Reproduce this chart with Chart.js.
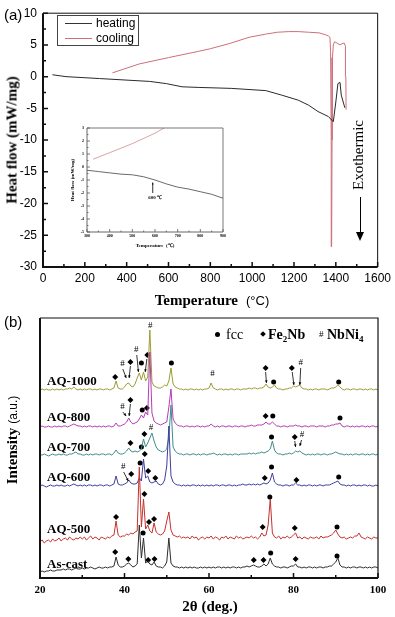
<!DOCTYPE html>
<html lang="en">
<head>
<meta charset="UTF-8">
<title>DSC and XRD</title>
<script src="https://cdn.jsdelivr.net/npm/chart.js"></script>
<style>
  html, body { margin: 0; padding: 0; background: #fff; }
  #fig { position: relative; width: 395px; height: 617px; overflow: hidden; }
  #fig canvas { position: absolute; }
  .txt { position: absolute; white-space: nowrap; line-height: 1; color: #000; }
  .sans { font-family: 'Liberation Sans', Arial, sans-serif; }
  .serif { font-family: 'Liberation Serif', 'Times New Roman', serif; }
  .rot { transform: translate(-50%, -50%) rotate(-90deg); }
  .mid { transform: translate(-50%, -50%); }
  .sample { font: bold 13px 'Liberation Serif', serif; left: 47px; transform: translateY(-50%); }
  sub { font-size: 9px; vertical-align: -3px; line-height: 0; }
</style>
</head>
<body>
<div id="fig">
  <canvas id="dsc" width="395" height="310" style="left:0;top:0"></canvas>
  <canvas id="inset" width="180" height="140" style="left:50px;top:118px"></canvas>
  <canvas id="xrd" width="395" height="307" style="left:0;top:310px"></canvas>

  <!-- panel (a) texts -->
  <div class="txt sans" style="left:4px;top:7px;font-size:15px">(a)</div>
  <div style="position:absolute;left:57px;top:15px;width:80px;height:29px;border:1px solid #444"></div>
  <div style="position:absolute;left:65px;top:23px;width:27px;height:1px;background:#333"></div>
  <div style="position:absolute;left:65px;top:38px;width:27px;height:1px;background:#cc6f78"></div>
  <div class="txt sans" style="left:96px;top:17px;font-size:12px">heating</div>
  <div class="txt sans" style="left:96px;top:32px;font-size:12px">cooling</div>
  <div class="txt serif rot" style="left:12px;top:140px;font-size:15px;font-weight:bold">Heat flow (mW/mg)</div>
  <div class="txt mid" style="left:212px;top:300px"><span class="serif" style="font-weight:bold;font-size:15px">Temperature</span>&nbsp; <span class="sans" style="font-size:13px">(°C)</span></div>
  <div class="txt serif rot" style="left:358px;top:155px;font-size:15px">Exothermic</div>
  <div style="position:absolute;left:359.5px;top:197px;width:1px;height:36px;background:#000"></div>
  <div style="position:absolute;left:356px;top:232px;width:0;height:0;border-left:4px solid transparent;border-right:4px solid transparent;border-top:9px solid #000"></div>

  <!-- panel (b) texts -->
  <div class="txt sans" style="left:4px;top:314px;font-size:15px">(b)</div>
  <div style="position:absolute;left:215px;top:332px;width:5px;height:5px;border-radius:50%;background:#000"></div>
  <div class="txt serif" style="left:226px;top:328px;font-size:14px">fcc</div>
  <div style="position:absolute;left:261px;top:332px;width:4px;height:4px;background:#000;transform:rotate(45deg)"></div>
  <div class="txt serif" style="left:268px;top:328px;font-size:14px;font-weight:bold">Fe<sub>2</sub>Nb</div>
  <div class="txt serif" style="left:319px;top:330px;font-size:9px">#</div>
  <div class="txt serif" style="left:327px;top:328px;font-size:14px;font-weight:bold">NbNi<sub>4</sub></div>

  <div class="txt sample" style="top:381px">AQ-1000</div>
  <div class="txt sample" style="top:417px">AQ-800</div>
  <div class="txt sample" style="top:447px">AQ-700</div>
  <div class="txt sample" style="top:477px">AQ-600</div>
  <div class="txt sample" style="top:529px">AQ-500</div>
  <div class="txt sample" style="top:564px">As-cast</div>

  <div class="txt rot" style="left:12px;top:440px"><span class="serif" style="font-weight:bold;font-size:15px">Intensity</span> <span class="sans" style="font-size:12px">(a.u.)</span></div>
  <div class="txt serif mid" style="left:210px;top:606px;font-size:15px;font-weight:bold">2θ (deg.)</div>
</div>

<script>
  // ---- (a) DSC curves, temperature in °C, heat flow in mW/mg
  const heatT = [45, 110, 270, 430, 510, 590, 665, 745, 900, 1065, 1140, 1220, 1270, 1315, 1365, 1388, 1400, 1410, 1420, 1426, 1443];
  const heatQ = [0.3, 0.0, -0.3, -0.6, -0.75, -1.1, -1.6, -1.7, -1.85, -2.2, -2.9, -3.7, -4.5, -5.5, -6.3, -7.1, -4.0, -1.1, -0.9, -2.9, -4.9];
  const coolT = [1449, 1448, 1446, 1440, 1430, 1420, 1410, 1400, 1394, 1388, 1384, 1382, 1380, 1378, 1375, 1372, 1365, 1350, 1320, 1270, 1220, 1175, 1120, 1065, 985, 890, 800, 745, 600, 460, 332];
  const coolQ = [-5.2, 0.0, 4.8, 5.3, 5.2, 5.0, 5.2, 5.4, 5.5, 5.0, 3.0, -10, -26.8, -10, 4.0, 6.2, 6.4, 6.6, 6.9, 7.0, 7.1, 7.1, 7.0, 6.7, 6.2, 5.2, 4.4, 4.0, 3.0, 2.0, 0.6];

  // inset (300-900 °C)
  const insetHeatT = [300, 350, 400, 450, 500, 550, 600, 650, 700, 750, 800, 850, 900];
  const insetHeatQ = [-0.25, -0.35, -0.45, -0.55, -0.6, -0.75, -1.0, -1.3, -1.55, -1.7, -1.9, -2.1, -2.4];
  const insetCoolT = [327, 400, 500, 600, 640];
  const insetCoolQ = [0.6, 1.1, 1.8, 2.6, 3.0];

  const dscXMajor = [0, 200, 400, 600, 800, 1000, 1200, 1400, 1600];
  const dscXMinor = [100, 300, 500, 700, 900, 1100, 1300, 1500];
  const dscYMajor = [-30, -25, -20, -15, -10, -5, 0, 5, 10];
  const dscYMinor = [-27.5, -22.5, -17.5, -12.5, -7.5, -2.5, 2.5, 7.5];
  const insXMajor = [300, 400, 500, 600, 700, 800, 900];
  const insXMinor = [350, 450, 550, 650, 750, 850];
  const insYMajor = [-5, -4, -3, -2, -1, 0, 1, 2, 3];
  const insYMinor = [-4.5, -3.5, -2.5, -1.5, -0.5, 0.5, 1.5, 2.5];

  // ---- (b) XRD, 2theta grid 20..100 step 0.5, intensities in a.u.
  const twoTheta = Array.from({ length: 161 }, (_, i) => 20 + i * 0.5);

  const asCast = [
    -4,-3,-4,-3,-3,-2,-3,-3,-2,-2,  -2,-1,-2,-1,-1,-2,-1,0,-1,-1,
    0,-1,0,0,1,0,-1,0,1,0,          0,1,0,1,1,2,11,3,1,1,
    2,4,5,3,1,2,4,43,10,30,         5,7,4,3,6,2,1,1,0,2,
    6,30,5,2,1,1,0,1,0,1,           0,1,0,1,0,0,1,0,1,0,
    1,0,1,0,1,1,0,1,0,1,            0,1,1,0,1,0,1,1,2,1,
    2,3,2,1,1,2,4,2,4,10,           4,2,1,1,0,1,1,0,1,2,
    2,4,1,1,0,1,0,1,1,0,            1,0,1,1,0,1,1,2,2,4,
    6,10,3,1,1,0,1,0,1,1,           0,1,1,0,1,0,1,0,1,1,
    0];
  const aq500 = [
    -3,-1,-4,-2,-1,-3,0,-2,-1,1,    -2,0,1,-1,2,0,-1,1,0,2,
    0,2,-1,1,3,0,2,1,-1,2,          1,0,2,1,3,4,18,4,2,3,
    3,5,4,6,5,7,8,72,12,40,         10,14,8,6,16,7,5,4,5,8,
    18,27,9,4,3,2,3,1,2,1,          2,0,3,1,2,-1,1,2,0,2,
    1,3,0,2,1,-1,2,1,3,0,           2,1,0,3,1,2,0,1,2,1,
    3,1,2,0,2,6,3,4,14,40,          6,2,1,3,0,2,1,3,1,2,
    4,6,1,2,0,2,1,0,2,1,            1,2,0,3,1,2,2,3,4,6,
    9,5,2,1,2,0,1,2,1,3,            3,6,2,1,0,2,1,0,2,1,
    1];
  const aq600 = [
    0,1,0,-1,0,1,0,0,1,0,           1,0,0,1,0,1,2,1,0,1,
    0,1,0,1,1,0,1,0,1,1,            0,1,1,0,1,2,10,2,1,1,
    2,3,6,3,2,2,3,8,5,27,           8,10,4,3,4,5,2,1,2,6,
    20,60,10,4,2,1,1,0,1,0,         1,0,1,1,0,1,0,1,0,1,
    0,1,0,1,1,0,1,1,0,1,            1,0,1,0,1,1,2,1,1,2,
    1,2,1,2,1,2,3,2,3,6,            13,4,2,1,1,0,1,1,0,1,
    1,3,1,1,0,1,0,1,1,0,            1,0,1,1,0,1,1,1,2,3,
    4,5,2,1,1,0,1,0,1,1,            0,1,0,1,1,0,1,0,0,1,
    0];
  const aq700 = [
    0,0,1,0,-1,0,1,0,0,1,           0,1,0,0,1,1,2,3,1,1,
    0,0,1,0,1,0,1,1,0,1,            1,0,1,1,0,2,5,2,1,1,
    2,4,7,4,3,4,3,4,6,16,           8,12,17,22,14,8,5,4,3,4,
    6,18,50,8,4,2,1,1,0,1,          1,0,1,1,0,1,0,1,1,0,
    1,1,2,1,0,1,0,1,1,0,            1,0,1,1,0,1,1,1,1,2,
    1,2,1,2,2,3,2,3,4,6,            14,5,2,1,1,0,1,1,2,1,
    2,4,3,4,2,1,0,1,0,1,            0,1,1,0,1,1,0,1,1,2,
    3,2,1,1,0,1,0,1,0,1,            1,0,1,1,0,1,0,1,1,0,
    1];
  const aq800 = [
    0,1,0,0,1,0,0,1,0,1,            0,1,1,0,1,2,3,2,1,1,
    0,1,0,1,1,0,1,0,1,0,            1,0,1,1,0,1,4,1,1,2,
    3,5,9,5,3,4,5,8,12,9,           15,12,75,14,6,4,3,2,3,4,
    5,20,38,8,4,2,1,1,0,1,          1,0,1,0,1,1,0,1,0,1,
    1,3,1,0,1,0,1,1,0,1,            1,0,1,1,0,1,1,0,1,1,
    2,1,1,2,2,2,3,5,3,3,            5,3,1,1,0,1,1,0,1,1,
    1,2,1,1,0,1,1,0,1,1,            1,0,1,1,1,0,1,1,2,2,
    3,3,4,1,0,1,1,0,1,0,            1,0,1,1,0,1,0,1,1,0,
    1];
  const aq1000 = [
    0,1,0,1,0,0,1,0,1,0,            1,0,1,1,2,1,3,1,0,1,
    0,1,0,1,1,0,1,0,1,1,            0,1,1,0,1,2,9,2,1,1,
    3,6,7,4,3,6,12,17,10,18,        9,13,60,8,4,3,2,2,3,5,
    4,9,22,6,3,2,1,1,0,1,           0,1,1,0,1,0,1,0,1,1,
    2,7,2,1,0,1,1,0,1,0,            1,1,0,1,1,0,1,1,1,2,
    1,2,2,1,2,2,3,6,3,2,            3,5,2,1,1,0,1,1,2,2,
    4,3,4,5,2,1,1,0,1,0,            1,1,0,1,1,1,0,1,2,2,
    3,5,3,1,0,1,1,0,1,1,            0,1,1,0,1,0,1,1,0,1,
    0];

  const patterns = [
    { name: 'As-cast', values: asCast, offset: 10, color: '#2e2e2e' },
    { name: 'AQ-500', values: aq500, offset: 39, color: '#c4302c' },
    { name: 'AQ-600', values: aq600, offset: 92, color: '#3d3d9e' },
    { name: 'AQ-700', values: aq700, offset: 123, color: '#3f8c8c' },
    { name: 'AQ-800', values: aq800, offset: 151, color: '#b43cb4' },
    { name: 'AQ-1000', values: aq1000, offset: 188, color: '#9c9c33' }
  ];

  // phase markers [2theta, intensity]
  const fccMarks = [[44.0,215],[51.1,215],[75.3,196],[90.7,196],[44.2,168],[75.1,162],[91.0,160],[44.0,131],[74.8,141],
    [74.8,111],[90.7,101],[43.7,115],[74.4,81],[90.3,51],[44.4,45],[74.6,25],[90.3,22]];
  const fe2nbMarks = [[37.8,201],[41.4,216],[45.4,223],[73.4,210],[79.6,210],[41.4,178],[45.3,170],[73.4,162],
    [41.4,135],[44.7,144],[80.3,141],[41.6,104],[44.8,124],[45.6,107],[47.3,100],[73.2,100],[80.7,98],
    [38.0,61],[44.7,84],[45.8,56],[47.0,59],[72.7,51],[80.3,50],
    [37.8,26],[40.9,19],[45.6,18],[47.1,19],[70.6,18],[72.9,18],[80.5,19]];
  const nbni4Marks = [[39.5,214],[42.8,228],[46.1,252],[60.8,204],[81.7,215],[39.5,171],[46.3,150],[82.0,143],[39.7,111]];
  const markArrows = [[39.6,209,40.4,200],[41.4,212,41.1,200],[42.9,223,43.3,206],[45.3,219,44.9,206],[73.4,206,73.6,195],
    [79.7,206,80.1,193],[81.7,210,81.5,193],[39.6,166,40.4,162],[41.4,174,41.1,162],[80.3,137,80.5,131],
    [81.9,138,81.5,132],[39.8,106,40.9,97]];

  const xrdXMajor = [20, 40, 60, 80, 100];
  const xrdXMinor = [30, 50, 70, 90];

  // ---- plugins
  // box round the plot (heavier left/bottom) and inward ticks
  const frame = {
    id: 'frame',
    afterDraw(chart, args, o) {
      const { ctx, chartArea: a, scales: { x, y } } = chart;
      ctx.save();
      ctx.strokeStyle = o.color || '#000';
      ctx.lineWidth = o.thin || 1;
      ctx.beginPath();
      ctx.moveTo(a.left, a.top); ctx.lineTo(a.right, a.top); ctx.lineTo(a.right, a.bottom);
      ctx.stroke();
      ctx.lineWidth = o.width || 1;
      ctx.beginPath();
      ctx.moveTo(a.left, a.top); ctx.lineTo(a.left, a.bottom); ctx.lineTo(a.right, a.bottom);
      ctx.stroke();
      ctx.lineWidth = o.tickWidth || 1;
      ctx.beginPath();
      (o.xMajor || []).forEach(v => { const p = x.getPixelForValue(v); ctx.moveTo(p, a.bottom); ctx.lineTo(p, a.bottom - o.major); });
      (o.xMinor || []).forEach(v => { const p = x.getPixelForValue(v); ctx.moveTo(p, a.bottom); ctx.lineTo(p, a.bottom - o.minor); });
      (o.yMajor || []).forEach(v => { const p = y.getPixelForValue(v); ctx.moveTo(a.left, p); ctx.lineTo(a.left + o.major, p); });
      (o.yMinor || []).forEach(v => { const p = y.getPixelForValue(v); ctx.moveTo(a.left, p); ctx.lineTo(a.left + o.minor, p); });
      ctx.stroke();
      ctx.restore();
    }
  };

  const notes = {
    id: 'notes',
    afterDatasetsDraw(chart, args, o) {
      const { ctx, scales: { x, y } } = chart;
      ctx.save();
      ctx.fillStyle = '#000';
      ctx.strokeStyle = '#000';
      ctx.lineWidth = 0.8;
      ctx.font = o.font;
      ctx.textAlign = 'center';
      ctx.textBaseline = 'middle';
      (o.texts || []).forEach(([t, v, s]) => ctx.fillText(s, x.getPixelForValue(t), y.getPixelForValue(v)));
      (o.arrows || []).forEach(([t1, v1, t2, v2]) => {
        const x1 = x.getPixelForValue(t1), y1 = y.getPixelForValue(v1);
        const x2 = x.getPixelForValue(t2), y2 = y.getPixelForValue(v2);
        ctx.beginPath(); ctx.moveTo(x1, y1); ctx.lineTo(x2, y2); ctx.stroke();
        const ang = Math.atan2(y2 - y1, x2 - x1), h = o.head || 3;
        ctx.beginPath();
        ctx.moveTo(x2, y2);
        ctx.lineTo(x2 - h * Math.cos(ang - 0.45), y2 - h * Math.sin(ang - 0.45));
        ctx.lineTo(x2 - h * Math.cos(ang + 0.45), y2 - h * Math.sin(ang + 0.45));
        ctx.closePath(); ctx.fill();
      });
      ctx.restore();
    }
  };

  const pts = (xs, ys) => xs.map((v, i) => ({ x: v, y: ys[i] }));
  const noTicks = { display: false, drawTicks: false };
  const tickFont = { family: "'Liberation Sans', Arial", size: 12 };
  const plain = v => String(v);

  Chart.defaults.color = '#000';

  // (a) main DSC plot
  new Chart(document.getElementById('dsc'), {
    type: 'scatter',
    data: {
      datasets: [
        { label: 'heating', data: pts(heatT, heatQ), showLine: true, borderColor: '#2a2a2a', borderWidth: 1, pointRadius: 0 },
        { label: 'cooling', data: pts(coolT, coolQ), showLine: true, borderColor: '#cc6f78', borderWidth: 1, pointRadius: 0 }
      ]
    },
    options: {
      responsive: false,
      animation: false,
      layout: { padding: { top: 6, right: 15, left: 0, bottom: 0 } },
      plugins: {
        legend: { display: false },
        tooltip: { enabled: false },
        frame: { xMajor: dscXMajor, xMinor: dscXMinor, yMajor: dscYMajor, yMinor: dscYMinor, major: 5, minor: 3, width: 2, thin: 1, tickWidth: 1.5, color: '#111' }
      },
      scales: {
        x: {
          min: 0, max: 1600,
          afterFit: s => { s.height = 43; },
          ticks: { stepSize: 200, font: tickFont, padding: 4, maxRotation: 0, callback: plain },
          grid: noTicks, border: { display: false }
        },
        y: {
          min: -30, max: 10,
          afterFit: s => { s.width = 43; },
          ticks: { stepSize: 5, font: tickFont, padding: 6, callback: plain },
          grid: noTicks, border: { display: false }
        }
      }
    },
    plugins: [frame]
  });

  // (a) inset
  const insetFont = { family: 'Liberation Serif', size: 4, weight: 'bold' };
  new Chart(document.getElementById('inset'), {
    type: 'scatter',
    data: {
      datasets: [
        { data: pts(insetHeatT, insetHeatQ), showLine: true, borderColor: '#444', borderWidth: 0.8, pointRadius: 0 },
        { data: pts(insetCoolT, insetCoolQ), showLine: true, borderColor: '#d48a90', borderWidth: 0.8, pointRadius: 0 }
      ]
    },
    options: {
      responsive: false,
      animation: false,
      layout: { padding: { top: 10, right: 7, left: 0, bottom: 0 } },
      plugins: {
        legend: { display: false },
        tooltip: { enabled: false },
        frame: { xMajor: insXMajor, xMinor: insXMinor, yMajor: insYMajor, yMinor: insYMinor, major: 3, minor: 1.5, width: 0.9, thin: 0.8, tickWidth: 0.8, color: '#555' },
        notes: { font: "bold 5px 'Liberation Serif'", texts: [[600, -2.4, '600 ℃']], arrows: [[590, -2.0, 590, -1.2]], head: 2 }
      },
      scales: {
        x: {
          min: 300, max: 900,
          afterFit: s => { s.height = 26; },
          ticks: { stepSize: 100, font: insetFont, padding: 2, maxRotation: 0, callback: plain },
          grid: noTicks, border: { display: false },
          title: { display: true, text: 'Temperature  (℃)', font: { family: 'Liberation Serif', size: 5, weight: 'bold' }, padding: { top: 0, bottom: 9 } }
        },
        y: {
          min: -5, max: 3,
          afterFit: s => { s.width = 37; },
          ticks: { stepSize: 1, font: insetFont, padding: 3, callback: plain },
          grid: noTicks, border: { display: false },
          title: { display: true, text: 'Heat flow (mW/mg)', font: { family: 'Liberation Serif', size: 5, weight: 'bold' }, padding: { top: 20, bottom: 0 } }
        }
      }
    },
    plugins: [frame, notes]
  });

  // (b) XRD patterns
  new Chart(document.getElementById('xrd'), {
    type: 'scatter',
    data: {
      datasets: [
        ...patterns.map(p => ({
          label: p.name,
          data: p.values.map((v, i) => ({ x: twoTheta[i], y: v + p.offset })),
          showLine: true, borderColor: p.color, borderWidth: 1, pointRadius: 0
        })),
        { label: 'fcc', data: fccMarks.map(([x, y]) => ({ x, y })), pointStyle: 'circle', pointRadius: 2.5, backgroundColor: '#000', borderWidth: 0 },
        { label: 'Fe2Nb', data: fe2nbMarks.map(([x, y]) => ({ x, y })), pointStyle: 'rectRot', pointRadius: 3, backgroundColor: '#000', borderWidth: 0 }
      ]
    },
    options: {
      responsive: false,
      animation: false,
      layout: { padding: { top: 8, right: 17, left: 40, bottom: 0 } },
      plugins: {
        legend: { display: false },
        tooltip: { enabled: false },
        frame: { xMajor: xrdXMajor, xMinor: xrdXMinor, major: 5, minor: 3, width: 2, thin: 1.2, tickWidth: 1.5, color: '#111' },
        notes: { font: "9px 'Liberation Serif'", texts: nbni4Marks.map(([t, v]) => [t, v, '#']), arrows: markArrows, head: 3 }
      },
      scales: {
        x: {
          min: 20, max: 100,
          afterFit: s => { s.height = 39; },
          ticks: { stepSize: 20, font: { family: 'Liberation Serif', size: 11, weight: 'bold' }, padding: 6, maxRotation: 0, callback: plain },
          grid: noTicks, border: { display: false }
        },
        y: { min: 0, max: 260, display: false }
      }
    },
    plugins: [frame, notes]
  });
</script>
</body>
</html>
